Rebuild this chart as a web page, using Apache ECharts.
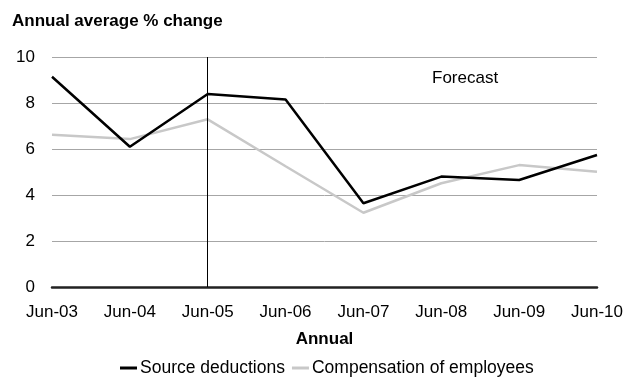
<!DOCTYPE html>
<html><head><meta charset="utf-8">
<script src="https://cdn.jsdelivr.net/npm/echarts@6/dist/echarts.min.js"></script>
<style>html,body{margin:0;padding:0;background:#fff}#c{width:630px;height:380px}</style>
</head><body><div id="c"></div>
<script>
var categories = ['Jun-03','Jun-04','Jun-05','Jun-06','Jun-07','Jun-08','Jun-09','Jun-10'];
var sourceDeductions = [9.14, 6.10, 8.39, 8.15, 3.64, 4.80, 4.65, 5.74];
var compensation = [6.62, 6.43, 7.29, 5.25, 3.23, 4.51, 5.30, 5.01];
var forecastStart = 'Jun-05';
var font = 'Liberation Sans, Arial, sans-serif';
var fs = 17;
var chart = echarts.init(document.getElementById('c'));
chart.setOption({
  animation: false,
  title: {text: 'Annual average % change', left: 7, top: 8, padding: 5,
    textStyle: {fontFamily: font, fontSize: fs, fontWeight: 'bold', color: '#000'}},
  grid: {left: 52, right: 33, top: 57, bottom: 93, containLabel: false},
  legend: {top: 354, left: 115, itemWidth: 17, itemHeight: 3, itemGap: 7,
    icon: 'rect',
    textStyle: {fontFamily: font, fontSize: 17.5, color: '#000', padding: [0,0,0,-2]},
    data: ['Source deductions', 'Compensation of employees']},
  xAxis: {type: 'category', data: categories, boundaryGap: false,
    name: 'Annual', nameLocation: 'middle', nameGap: 44,
    nameTextStyle: {fontFamily: font, fontSize: fs, fontWeight: 'bold', color: '#000'},
    axisLine: {lineStyle: {color: '#222', width: 2.5}},
    axisTick: {show: false},
    axisLabel: {fontFamily: font, fontSize: fs, color: '#000', margin: 16.5}},
  yAxis: {type: 'value', min: 0, max: 10, interval: 2,
    axisLine: {show: false}, axisTick: {show: false},
    axisLabel: {fontFamily: font, fontSize: fs, color: '#000', margin: 17},
    splitLine: {lineStyle: {color: '#a6a6a6', width: 1}}},
  series: [
    {name: 'Source deductions', type: 'line', data: sourceDeductions, symbol: 'none',
      lineStyle: {color: '#000', width: 2.5}, itemStyle: {color: '#000'}, z: 3,
      markLine: {silent: true, symbol: 'none', label: {show: false},
        lineStyle: {color: '#000', width: 1, type: 'solid'},
        data: [{xAxis: forecastStart}]}},
    {name: 'Compensation of employees', type: 'line', data: compensation, symbol: 'none',
      lineStyle: {color: '#c8c8c8', width: 2.5}, itemStyle: {color: '#c8c8c8'}, z: 2}
  ],
  graphic: [{type: 'text', left: 432, top: 70,
    style: {text: 'Forecast', fontFamily: font, fontSize: fs, fill: '#000'}}]
});
</script></body></html>
